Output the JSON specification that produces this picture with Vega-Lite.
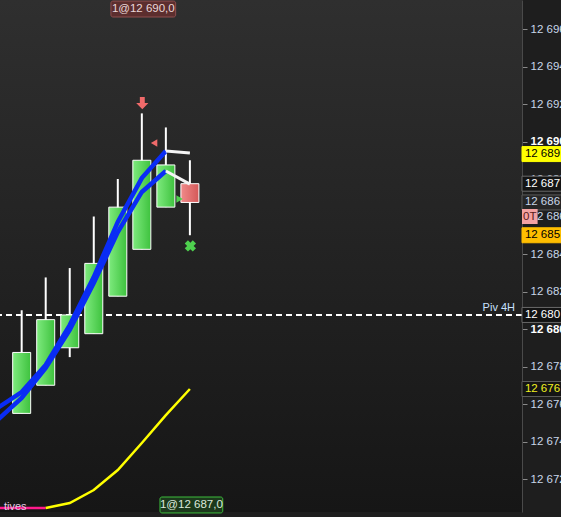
{
  "$schema": "https://vega.github.io/schema/vega-lite/v6.json",
  "width": 522,
  "height": 512,
  "autosize": {"type": "none"},
  "padding": {"left": 0, "top": 0, "right": 39, "bottom": 5},
  "background": "#1e1e1e",
  "config": {
    "view": {"stroke": null, "fill": {"gradient": "linear", "x1": 0, "y1": 0, "x2": 0, "y2": 1, "stops": [{"offset": 0, "color": "#2f2f2f"}, {"offset": 1, "color": "#161616"}]}},
    "font": "Liberation Sans"
  },
  "datasets": {
    "candles": [
      {"i": 1, "o": 12675.5, "h": 12681.0, "l": 12675.5, "c": 12678.75, "dir": "up"},
      {"i": 2, "o": 12677.0, "h": 12682.75, "l": 12677.0, "c": 12680.5, "dir": "up"},
      {"i": 3, "o": 12679.0, "h": 12683.25, "l": 12678.5, "c": 12680.75, "dir": "up"},
      {"i": 4, "o": 12679.75, "h": 12686.0, "l": 12679.75, "c": 12683.5, "dir": "up"},
      {"i": 5, "o": 12681.75, "h": 12688.0, "l": 12681.75, "c": 12686.5, "dir": "up"},
      {"i": 6, "o": 12684.25, "h": 12691.5, "l": 12684.25, "c": 12689.0, "dir": "up"},
      {"i": 7, "o": 12686.5, "h": 12690.75, "l": 12686.5, "c": 12688.75, "dir": "up"},
      {"i": 8, "o": 12687.75, "h": 12689.0, "l": 12685.0, "c": 12686.75, "dir": "down"}
    ],
    "ma": [
      {"i": 0, "v": 12675.79, "s": "A"}, {"i": 1, "v": 12676.64, "s": "A"}, {"i": 2, "v": 12678.08, "s": "A"},
      {"i": 3, "v": 12680.21, "s": "A"}, {"i": 4, "v": 12682.77, "s": "A"}, {"i": 5, "v": 12685.71, "s": "A"},
      {"i": 6, "v": 12688.05, "s": "A"}, {"i": 7, "v": 12689.49, "s": "A"},
      {"i": 0, "v": 12675.15, "s": "B"}, {"i": 1, "v": 12676.32, "s": "B"}, {"i": 2, "v": 12677.92, "s": "B"},
      {"i": 3, "v": 12679.95, "s": "B"}, {"i": 4, "v": 12682.45, "s": "B"}, {"i": 5, "v": 12685.17, "s": "B"},
      {"i": 6, "v": 12687.31, "s": "B"}, {"i": 7, "v": 12688.43, "s": "B"}
    ],
    "maLast": [
      {"i": 7, "v": 12689.49, "s": "A"}, {"i": 8, "v": 12689.39, "s": "A"},
      {"i": 7, "v": 12688.43, "s": "B"}, {"i": 8, "v": 12687.73, "s": "B"}
    ],
    "yellow": [
      {"i": 2, "v": 12670.45}, {"i": 3, "v": 12670.72}, {"i": 4, "v": 12671.41}, {"i": 5, "v": 12672.48},
      {"i": 6, "v": 12673.92}, {"i": 7, "v": 12675.41}, {"i": 8, "v": 12676.8}
    ],
    "pink": [
      {"i": 0, "v": 12670.45}, {"i": 2, "v": 12670.45}
    ],
    "tags": [
      {"p": 12689.33, "txt": "12 689", "kind": "cross"},
      {"p": 12687.75, "txt": "12 687", "kind": "ma"},
      {"p": 12686.75, "txt": "12 686", "kind": "last"},
      {"p": 12685.0, "txt": "12 685", "kind": "ord"},
      {"p": 12680.75, "txt": "12 680", "kind": "piv"},
      {"p": 12676.8, "txt": "12 676", "kind": "ind"}
    ]
  },
  "encoding": {
    "x": {"type": "quantitative", "scale": {"domain": [0.306, 21.612], "nice": false, "zero": false}, "axis": null},
    "y": {"type": "quantitative", "scale": {"domain": [12670.24, 12697.547], "nice": false, "zero": false}}
  },
  "layer": [
    {
      "mark": {"type": "rule", "color": "#b83535", "strokeWidth": 1.2},
      "encoding": {"x": {"datum": 17.082}}
    },
    {
      "mark": {"type": "rule", "color": "#a83030", "strokeWidth": 1},
      "encoding": {"y": {"datum": 12689.33, "axis": {"orient": "right", "values": [12672, 12674, 12676, 12678, 12680, 12682, 12684, 12686, 12688, 12690, 12692, 12694, 12696], "title": null, "domain": true, "domainColor": "#4a4a4a", "tickColor": "#8a8a8a", "tickSize": 5, "labelPadding": 3, "labelFontSize": 11.5, "labelColor": {"condition": {"test": "datum.value % 10 === 0", "value": "#ffffff"}, "value": "#c8d6e8"}, "labelFontWeight": {"condition": {"test": "datum.value % 10 === 0", "value": "bold"}, "value": "normal"}, "labelExpr": "replace(format(datum.value, ','), ',', ' ')", "grid": false, "labelOverlap": false, "labelBound": false, "labelFlush": false}}}
    },
    {
      "data": {"values": [{"p": 12680.75}]},
      "mark": {"type": "rule", "color": "#ffffff", "strokeWidth": 2, "strokeDash": [6, 4]},
      "encoding": {"y": {"field": "p"}}
    },
    {
      "data": {"values": [{"p": 12680.75, "t": "Piv 4H"}]},
      "mark": {"type": "text", "align": "right", "baseline": "middle", "dy": -7, "fontSize": 11, "color": "#c8e0ff"},
      "encoding": {"x": {"datum": 21.53}, "y": {"field": "p"}, "text": {"field": "t"}}
    },
    {
      "data": {"name": "pink"},
      "mark": {"type": "line", "color": "#ff1a8c", "strokeWidth": 2.5, "clip": true},
      "encoding": {"x": {"field": "i"}, "y": {"field": "v"}}
    },
    {
      "data": {"values": [{"p": 12670.5, "t": "tives"}]},
      "mark": {"type": "text", "align": "right", "baseline": "middle", "fontSize": 11, "color": "#e6cce6"},
      "encoding": {"x": {"datum": 1.204}, "y": {"field": "p"}, "text": {"field": "t"}}
    },
    {
      "data": {"name": "yellow"},
      "mark": {"type": "line", "color": "#ffff00", "strokeWidth": 2.5},
      "encoding": {"x": {"field": "i"}, "y": {"field": "v"}}
    },
    {
      "data": {"name": "candles"},
      "mark": {"type": "rule", "color": "#ffffff", "strokeWidth": 2},
      "encoding": {"x": {"field": "i"}, "y": {"field": "l"}, "y2": {"field": "h"}}
    },
    {
      "data": {"name": "candles"},
      "transform": [{"filter": "datum.dir === 'up'"}],
      "mark": {"type": "bar", "orient": "vertical", "width": 18, "stroke": "#ffffff", "strokeWidth": 1,
        "fill": {"gradient": "linear", "x1": 0, "y1": 0, "x2": 1, "y2": 0, "stops": [{"offset": 0, "color": "#7eea7e"}, {"offset": 1, "color": "#3ec23e"}]}},
      "encoding": {"x": {"field": "i"}, "y": {"field": "o"}, "y2": {"field": "c"}}
    },
    {
      "data": {"name": "candles"},
      "transform": [{"filter": "datum.dir === 'down'"}],
      "mark": {"type": "bar", "orient": "vertical", "width": 18, "stroke": "#ffffff", "strokeWidth": 1,
        "fill": {"gradient": "linear", "x1": 0, "y1": 0, "x2": 1, "y2": 0, "stops": [{"offset": 0, "color": "#f08a8a"}, {"offset": 1, "color": "#d45858"}]}},
      "encoding": {"x": {"field": "i"}, "y": {"field": "o"}, "y2": {"field": "c"}}
    },
    {
      "data": {"name": "ma"},
      "mark": {"type": "line", "color": "#0a2cf5", "strokeWidth": 4.5, "clip": true},
      "encoding": {"x": {"field": "i"}, "y": {"field": "v"}, "detail": {"field": "s"}}
    },
    {
      "data": {"name": "maLast"},
      "mark": {"type": "line", "color": "#f4f4f4", "strokeWidth": 3},
      "encoding": {"x": {"field": "i"}, "y": {"field": "v"}, "detail": {"field": "s"}}
    },
    {
      "data": {"values": [{"i": 6.02, "p": 12692.05}]},
      "mark": {"type": "point", "filled": true, "color": "#f06a6a", "opacity": 1, "size": 150, "shape": "M-0.4,-1L0.4,-1L0.4,0L1,0L0,1L-1,0L-0.4,0Z"},
      "encoding": {"x": {"field": "i"}, "y": {"field": "p"}}
    },
    {
      "data": {"values": [{"i": 6.51, "p": 12689.92}]},
      "mark": {"type": "point", "filled": true, "color": "#f06a6a", "opacity": 1, "size": 55, "shape": "triangle-left"},
      "encoding": {"x": {"field": "i"}, "y": {"field": "p"}}
    },
    {
      "data": {"values": [{"i": 7.57, "p": 12686.93}]},
      "mark": {"type": "point", "filled": true, "color": "#4ed04e", "opacity": 1, "size": 55, "shape": "triangle-right"},
      "encoding": {"x": {"field": "i"}, "y": {"field": "p"}}
    },
    {
      "data": {"values": [{"i": 8.02, "p": 12684.43}]},
      "mark": {"type": "point", "filled": true, "color": "#4ed04e", "opacity": 1, "size": 130, "shape": "cross", "angle": 45},
      "encoding": {"x": {"field": "i"}, "y": {"field": "p"}}
    },
    {
      "data": {"values": [{"a": 4.714, "b": 7.408, "p1": 12697.49, "p2": 12696.64}]},
      "mark": {"type": "rect", "fill": "#5c2e2e", "stroke": "#8e4e4e", "strokeWidth": 1, "cornerRadius": 2},
      "encoding": {"x": {"field": "a"}, "x2": {"field": "b"}, "y": {"field": "p1"}, "y2": {"field": "p2"}}
    },
    {
      "data": {"values": [{"i": 6.061, "p": 12697.07, "t": "1@12 690,0"}]},
      "mark": {"type": "text", "align": "center", "baseline": "middle", "fontSize": 11.5, "color": "#ead8d8"},
      "encoding": {"x": {"field": "i"}, "y": {"field": "p"}, "text": {"field": "t"}}
    },
    {
      "data": {"values": [{"a": 6.755, "b": 9.367, "p1": 12671.04, "p2": 12670.19}]},
      "mark": {"type": "rect", "fill": "#1c381c", "stroke": "#3cbc3c", "strokeWidth": 1, "cornerRadius": 2},
      "encoding": {"x": {"field": "a"}, "x2": {"field": "b"}, "y": {"field": "p1"}, "y2": {"field": "p2"}}
    },
    {
      "data": {"values": [{"i": 8.061, "p": 12670.61, "t": "1@12 687,0"}]},
      "mark": {"type": "text", "align": "center", "baseline": "middle", "fontSize": 11.5, "color": "#dce8dc"},
      "encoding": {"x": {"field": "i"}, "y": {"field": "p"}, "text": {"field": "t"}}
    },
    {
      "data": {"name": "tags"},
      "mark": {"type": "rect", "strokeWidth": 1, "clip": false, "height": 15},
      "encoding": {
        "x": {"datum": 21.82}, "x2": {"datum": 23.5},
        "y": {"field": "p"},
        "fill": {"field": "kind", "type": "nominal", "legend": null, "scale": {"domain": ["cross", "ma", "last", "ord", "piv", "ind"], "range": ["#ffff00", "#141414", "#262626", "#ffbe00", "#121212", "#141414"]}},
        "stroke": {"field": "kind", "type": "nominal", "legend": null, "scale": {"domain": ["cross", "ma", "last", "ord", "piv", "ind"], "range": ["#ffff00", "#6a6a6a", "#5a5a5a", "#ffbe00", "#6a6a6a", "#5a5a5a"]}}
      }
    },
    {
      "data": {"name": "tags"},
      "mark": {"type": "text", "align": "left", "baseline": "middle", "fontSize": 11.5},
      "encoding": {
        "x": {"datum": 21.94},
        "y": {"field": "p"},
        "text": {"field": "txt"},
        "color": {"field": "kind", "type": "nominal", "legend": null, "scale": {"domain": ["cross", "ma", "last", "ord", "piv", "ind"], "range": ["#000000", "#ffffff", "#c8d6e8", "#000000", "#ffffff", "#f0f020"]}}
      }
    },
    {
      "data": {"values": [{"p": 12686.0, "t": "0T"}]},
      "mark": {"type": "rect", "fill": "#f4a2a2", "height": 15},
      "encoding": {"x": {"datum": 21.82}, "x2": {"datum": 22.47}, "y": {"field": "p"}}
    },
    {
      "data": {"values": [{"p": 12686.0, "t": "0T"}]},
      "mark": {"type": "text", "align": "center", "baseline": "middle", "fontSize": 11.5, "color": "#5a1a1a"},
      "encoding": {"x": {"datum": 22.145}, "y": {"field": "p"}, "text": {"field": "t"}}
    }
  ]
}
